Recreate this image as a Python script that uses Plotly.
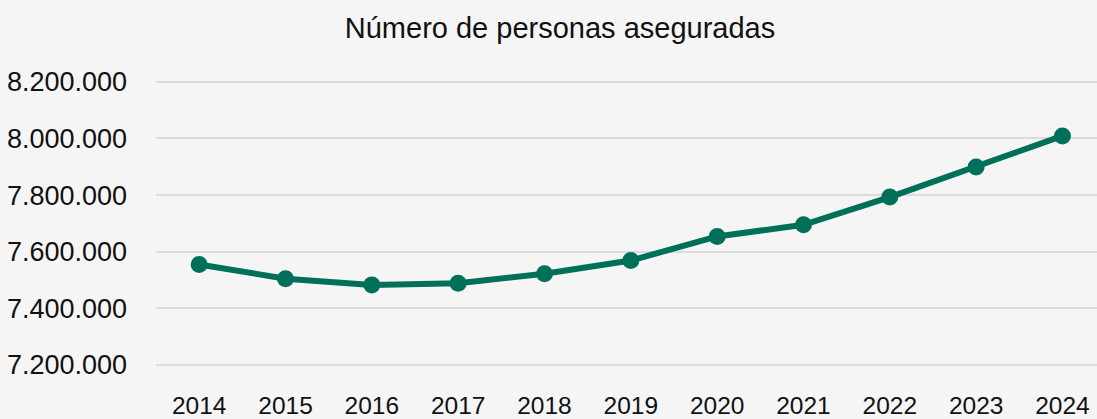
import plotly.graph_objects as go

years = ["2014", "2015", "2016", "2017", "2018", "2019", "2020", "2021", "2022", "2023", "2024"]
insured = [7555000, 7505000, 7483000, 7489000, 7522000, 7569000, 7654000, 7695000, 7793000, 7899000, 8009000]
y_ticks = [7200000, 7400000, 7600000, 7800000, 8000000, 8200000]
y_tick_labels = ["7.200.000", "7.400.000", "7.600.000", "7.800.000", "8.000.000", "8.200.000"]
title_text = "Número de personas aseguradas"

GREEN = "#00705A"
BG = "#F5F5F5"

fig = go.Figure()
fig.add_trace(go.Scatter(
    x=years, y=insured, mode="lines+markers",
    line=dict(color=GREEN, width=6),
    marker=dict(color=GREEN, size=17),
    hoverinfo="skip", showlegend=False,
))

fig.update_layout(
    width=1097, height=419,
    paper_bgcolor=BG, plot_bgcolor=BG,
    margin=dict(l=156, r=0, t=62, b=35, autoexpand=False),
    font=dict(family="Liberation Sans, Arial, sans-serif", color="#111111", size=27),
    title=dict(text=title_text, x=560/1097, xref="container", xanchor="center",
               y=1 - 28/419, yref="container", yanchor="middle",
               font=dict(size=29, color="#111111")),
    xaxis=dict(type="category", range=[-0.5, 10.4], showgrid=False, zeroline=False,
               showline=False, ticks="", ticklabelstandoff=4, automargin=False,
               tickfont=dict(size=24.5, color="#111111")),
    yaxis=dict(range=[7133000, 8270000], tickvals=y_ticks, ticktext=y_tick_labels,
               showgrid=True, gridcolor="#DCDCDC", gridwidth=2, zeroline=False,
               showline=False, ticks="", ticklabelstandoff=28, automargin=False,
               tickfont=dict(size=27, color="#111111")),
)

fig.write_html(
    "out.html",
    config={"displayModeBar": False},
    post_script="document.body.style.margin='0';document.body.style.overflow='hidden';document.body.style.background='#F5F5F5';",
)
